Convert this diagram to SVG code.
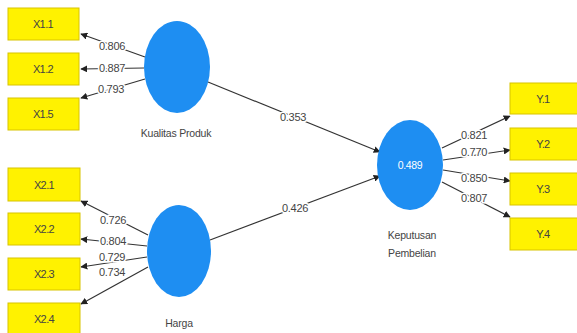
<svg xmlns="http://www.w3.org/2000/svg" width="577" height="333" viewBox="0 0 577 333">
  <defs>
    <marker id="arr" viewBox="0 0 10 10" refX="9" refY="5" markerWidth="7" markerHeight="7" orient="auto" markerUnits="userSpaceOnUse">
      <path d="M0,0 L10,5 L0,10 z" fill="#222"/>
    </marker>
    <style>
      .ind rect { fill: #FFF200; stroke: #D8C400; stroke-width: 1; }
      .ind text { font-family: "Liberation Sans", Arial, sans-serif; font-size: 11px; fill: #444; text-anchor: middle; letter-spacing: -0.6px; }
      .lat ellipse { fill: #1E8EF2; }
      .lat text { font-family: "Liberation Sans", Arial, sans-serif; font-size: 10.5px; fill: #444; text-anchor: middle; letter-spacing: -0.2px; }
      .lat text.r2 { fill: #fff; font-size: 10.5px; letter-spacing: -0.4px; }
      .edges line { stroke: #333; stroke-width: 1.2; marker-end: url(#arr); }
      .edges text { font-family: "Liberation Sans", Arial, sans-serif; font-size: 11px; fill: #444; text-anchor: middle; letter-spacing: -0.3px; paint-order: stroke; stroke: #fff; stroke-width: 3px; }
    </style>
  </defs>
  <rect width="577" height="333" fill="#fff"/>

  <!-- connectors -->
  <g id="connectors" class="edges">
    <!-- Kualitas Produk loadings -->
    <line x1="145" y1="57" x2="81" y2="34"/>
    <line x1="144" y1="68" x2="81" y2="69"/>
    <line x1="145" y1="79" x2="81" y2="98"/>
    <!-- Harga loadings -->
    <line x1="148" y1="235" x2="81" y2="201"/>
    <line x1="147" y1="246" x2="81" y2="239"/>
    <line x1="147" y1="257" x2="81" y2="267"/>
    <line x1="148" y1="267" x2="81" y2="304"/>
    <!-- path coefficients -->
    <line x1="208" y1="82" x2="380" y2="152"/>
    <line x1="210" y1="240" x2="380" y2="176"/>
    <!-- Keputusan Pembelian loadings -->
    <line x1="442" y1="148" x2="510" y2="116"/>
    <line x1="443" y1="160" x2="510" y2="150"/>
    <line x1="443" y1="170" x2="510" y2="181"/>
    <line x1="442" y1="182" x2="510" y2="217"/>

    <text x="112" y="50">0.806</text>
    <text x="112" y="72">0.887</text>
    <text x="111" y="93">0.793</text>
    <text x="113" y="224">0.726</text>
    <text x="113" y="245">0.804</text>
    <text x="112" y="261">0.729</text>
    <text x="112" y="276">0.734</text>
    <text x="293" y="121">0.353</text>
    <text x="295" y="212">0.426</text>
    <text x="474" y="139">0.821</text>
    <text x="474" y="156">0.770</text>
    <text x="474" y="182">0.850</text>
    <text x="474" y="202">0.807</text>
  </g>

  <!-- indicators -->
  <g id="X1.1" class="ind"><rect x="8" y="8" width="71" height="32"/><text x="43" y="28">X1.1</text></g>
  <g id="X1.2" class="ind"><rect x="8" y="53" width="71" height="32"/><text x="43" y="73">X1.2</text></g>
  <g id="X1.5" class="ind"><rect x="8" y="98" width="71" height="32"/><text x="43" y="118">X1.5</text></g>
  <g id="X2.1" class="ind"><rect x="8" y="168" width="72" height="33"/><text x="44" y="189">X2.1</text></g>
  <g id="X2.2" class="ind"><rect x="8" y="213" width="72" height="32"/><text x="44" y="233">X2.2</text></g>
  <g id="X2.3" class="ind"><rect x="8" y="258" width="72" height="32"/><text x="44" y="278">X2.3</text></g>
  <g id="X2.4" class="ind"><rect x="8" y="303" width="72" height="32"/><text x="44" y="323">X2.4</text></g>
  <g id="Y.1" class="ind"><rect x="510" y="83" width="70" height="31"/><text x="543" y="103">Y.1</text></g>
  <g id="Y.2" class="ind"><rect x="510" y="128" width="70" height="32"/><text x="543" y="148">Y.2</text></g>
  <g id="Y.3" class="ind"><rect x="510" y="173" width="70" height="32"/><text x="543" y="193">Y.3</text></g>
  <g id="Y.4" class="ind"><rect x="510" y="218" width="70" height="32"/><text x="543" y="238">Y.4</text></g>

  <!-- latent variables -->
  <g id="kualitas-produk" class="lat">
    <ellipse cx="177" cy="67" rx="33" ry="46"/>
    <text x="176" y="137">Kualitas Produk</text>
  </g>
  <g id="harga" class="lat">
    <ellipse cx="179" cy="251" rx="32" ry="46"/>
    <text x="179" y="327">Harga</text>
  </g>
  <g id="keputusan-pembelian" class="lat">
    <ellipse cx="410" cy="165" rx="33" ry="45"/>
    <text class="r2" x="410" y="169">0.489</text>
    <text x="412" y="239">Keputusan</text>
    <text x="412" y="257">Pembelian</text>
  </g>
</svg>
